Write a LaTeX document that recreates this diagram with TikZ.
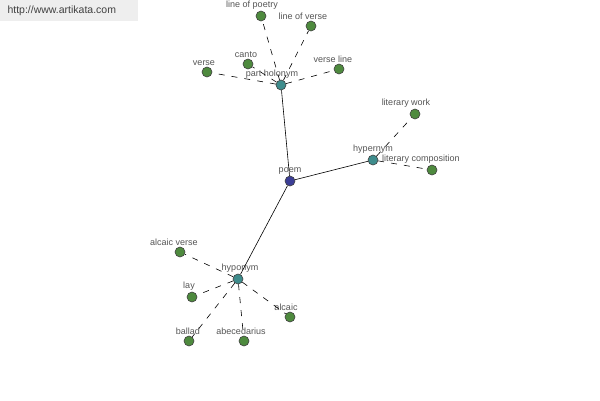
\documentclass[tikz,border=0pt]{standalone}
\usepackage{fontspec}
\setmainfont{Liberation Sans}
\usepackage{xcolor}
\usepackage{tikz}
\usetikzlibrary{positioning}

\definecolor{leafgreen}{HTML}{4E8A3E}
\definecolor{hubteal}{HTML}{3E8C8C}
\definecolor{rootblue}{HTML}{3B3E96}
\definecolor{labelgray}{HTML}{555555}
\definecolor{bannergray}{HTML}{EEEEEE}

\begin{document}
\begin{tikzpicture}[
  x=1pt, y=-1pt,
  dot/.style={circle, draw=black!75, line width=0.6pt, minimum size=10pt, inner sep=0pt},
  leaf/.style={dot, fill=leafgreen},
  hub/.style={dot, fill=hubteal},
  root/.style={dot, fill=rootblue},
  lbl/.style={font=\fontsize{9}{10}\selectfont, text=labelgray, inner sep=0.8pt},
  every label/.style={lbl},
  label distance=0pt,
  rel/.style={draw=black, line width=0.6pt},
  link/.style={draw=black, line width=0.6pt, dash pattern=on 6pt off 7pt}
]

% canvas and banner
\useasboundingbox[fill=white] (0,0) rectangle (600,400);
\fill[bannergray] (0,0) rectangle (138,21);
\node[font=\fontsize{10.5}{12}\selectfont, text=black!75, anchor=west] (banner) at (4,11) {http://www.artikata.com};

% centre and relation hubs
\node[root, label={above:poem}] (poem) at (290,181) {};
\node[hub, label={[xshift=-9pt]above:part holonym}] (holonym) at (281,85) {};
\node[hub, label={above:hypernym}] (hypernym) at (373,160) {};
\node[hub, label={[xshift=2pt]above:hyponym}] (hyponym) at (238,279) {};

% part holonym leaves
\node[leaf, label={[xshift=-9pt]above:line of poetry}] (poetry) at (261,16) {};
\node[leaf, label={[xshift=-8pt]above:line of verse}] (lineverse) at (311,26) {};
\node[leaf, label={[xshift=-2pt]above:canto}] (canto) at (248,64) {};
\node[leaf, label={[xshift=-3pt]above:verse}] (verse) at (207,72) {};
\node[leaf, label={[xshift=-6pt]above:verse line}] (verseline) at (339,69) {};

% hypernym leaves
\node[leaf, label={[xshift=-9pt]above:literary work}] (litwork) at (415,114) {};
\node[leaf, label={[xshift=-11pt]above:literary composition}] (litcomp) at (432,170) {};

% hyponym leaves
\node[leaf, label={[xshift=-6pt]above:alcaic verse}] (alcverse) at (180,252) {};
\node[leaf, label={[xshift=-3pt]above:lay}] (lay) at (192,297) {};
\node[leaf, label={[xshift=-1pt]above:ballad}] (ballad) at (189,341) {};
\node[leaf, label={[xshift=-3pt]above:abecedarius}] (abeced) at (244,341) {};
\node[leaf, label={[xshift=-4pt]above:alcaic}] (alcaic) at (290,317) {};

% relations
\draw[rel] (poem) -- (holonym);
\draw[rel] (poem) -- (hypernym);
\draw[rel] (poem) -- (hyponym);

\foreach \leafname in {poetry, lineverse, canto, verse, verseline}
  \draw[link] (holonym) -- (\leafname);
\foreach \leafname in {litwork, litcomp}
  \draw[link] (hypernym) -- (\leafname);
\foreach \leafname in {alcverse, lay, ballad, abeced, alcaic}
  \draw[link] (hyponym) -- (\leafname);

\end{tikzpicture}
\end{document}
